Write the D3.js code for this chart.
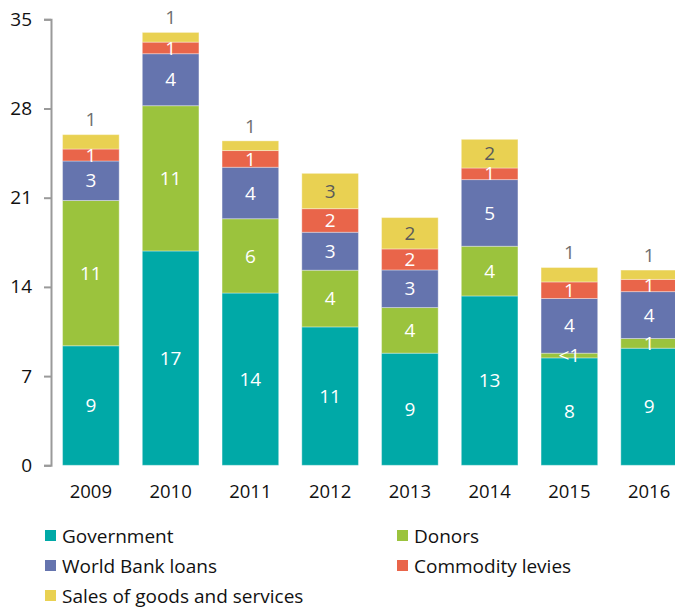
<!DOCTYPE html>
<html>
<head>
<meta charset="utf-8">
<script src="https://cdn.jsdelivr.net/npm/d3@7"></script>
<style>
  body { margin: 0; background: #fff; }
  svg text { font-family: "Open Sans", sans-serif; }
</style>
</head>
<body>
<div id="chart"></div>
<script>
// data
var years = ["2009", "2010", "2011", "2012", "2013", "2014", "2015", "2016"];
var government = [9.38, 16.82, 13.52, 10.86, 8.80, 13.29, 8.43, 9.19];
var donors     = [11.40, 11.40, 5.83, 4.45, 3.58, 3.90, 0.37, 0.76];
var worldBank  = [3.10, 4.08, 4.04, 2.98, 2.95, 5.23, 4.29, 3.68];
var levies     = [0.94, 0.91, 1.31, 1.85, 1.65, 0.91, 1.30, 0.96];
var sales      = [1.13, 0.76, 0.76, 2.77, 2.46, 2.25, 1.13, 0.73];
var yTicks = [0, 7, 14, 21, 28, 35];

var seriesNames = ["Government", "Donors", "World Bank loans", "Commodity levies", "Sales of goods and services"];
var seriesValues = [government, donors, worldBank, levies, sales];
var colors = ["#00a9a7", "#9bc33d", "#6574ae", "#e9654a", "#e9d152"];

var rows = years.map(function(y, i) {
  var r = { year: y };
  seriesNames.forEach(function(s, j) { r[s] = seriesValues[j][i]; });
  return r;
});

var svg = d3.select("#chart").append("svg")
  .attr("width", 675)
  .attr("height", 611);

var x = d3.scaleBand()
  .domain(years)
  .range([51, 689])
  .paddingInner(0.29)
  .paddingOuter(0.145);

var y = d3.scaleLinear()
  .domain([0, 35])
  .range([465.3, 19.3]);

var stack = d3.stack().keys(seriesNames)(rows);

function label(v) {
  return v < 0.5 ? "<1" : String(Math.round(v));
}

var layers = svg.selectAll("g.layer")
  .data(stack)
  .enter().append("g")
    .attr("class", "layer")
    .attr("fill", function(d, i) { return colors[i]; });

layers.selectAll("rect")
  .data(function(d) { return d; })
  .enter().append("rect")
    .attr("x", function(d) { return x(d.data.year); })
    .attr("y", function(d) { return y(d[1]); })
    .attr("width", x.bandwidth())
    .attr("height", function(d) { return y(d[0]) - y(d[1]); })
    .attr("stroke", "#ffffff")
    .attr("stroke-opacity", 0.35)
    .attr("stroke-width", 1);

// value labels
stack.forEach(function(layer, i) {
  layer.forEach(function(d) {
    var h = y(d[0]) - y(d[1]);
    var cx = x(d.data.year) + x.bandwidth() / 2;
    var isTop = i === stack.length - 1;
    var above = isTop && h < 20;
    var ty = above ? y(d[1]) - 15 : (y(d[0]) + y(d[1])) / 2;
    svg.append("text")
      .attr("x", cx)
      .attr("y", ty)
      .attr("dy", "0.35em")
      .attr("text-anchor", "middle")
      .attr("font-size", 19)
      .attr("fill", above ? "#6e6e6e" : (isTop ? "#5a5a5a" : "#ffffff"))
      .text(label(d.data[seriesNames[i]]));
  });
});

// y axis
var yAxis = svg.append("g")
  .attr("transform", "translate(51,0)")
  .call(d3.axisLeft(y).tickValues(yTicks).tickSize(7).tickPadding(12));
yAxis.selectAll("path, line")
  .attr("stroke", "#9a9a9a")
  .attr("stroke-width", 2);
yAxis.selectAll("text")
  .attr("font-size", 19)
  .attr("font-family", "Open Sans, sans-serif")
  .attr("fill", "#111");

// x labels
svg.selectAll("text.year")
  .data(years)
  .enter().append("text")
    .attr("class", "year")
    .attr("x", function(d) { return x(d) + x.bandwidth() / 2; })
    .attr("y", 498)
    .attr("text-anchor", "middle")
    .attr("font-size", 18.5)
    .attr("fill", "#111")
    .text(function(d) { return d; });

// legend
var legendPos = [[45, 543], [397, 543], [45, 573], [397, 573], [45, 603]];
seriesNames.forEach(function(s, i) {
  var g = svg.append("g")
    .attr("transform", "translate(" + legendPos[i][0] + "," + legendPos[i][1] + ")");
  g.append("rect")
    .attr("x", 0)
    .attr("y", -13)
    .attr("width", 11)
    .attr("height", 11)
    .attr("fill", colors[i]);
  g.append("text")
    .attr("x", 17)
    .attr("y", 0)
    .attr("font-size", 19)
    .attr("fill", "#111")
    .text(s);
});
</script>
</body>
</html>
